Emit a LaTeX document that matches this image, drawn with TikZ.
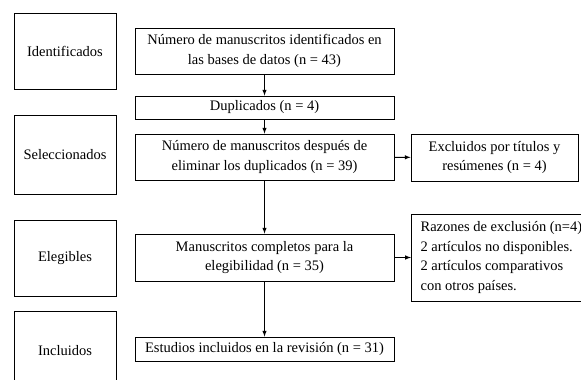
\documentclass[tikz,border=0pt]{standalone}
\usepackage{fontspec}
\setmainfont{Liberation Serif}
\usepackage{tikz}
\usetikzlibrary{shapes, arrows, positioning}

\begin{document}
\begin{tikzpicture}[x=1pt, y=-1pt, font=\fontsize{14.5}{19.5}\selectfont]
    \tikzstyle{stage} = [rectangle, draw, line width=0.8pt, minimum width=102pt, inner sep=0pt, align=center]
    \tikzstyle{block} = [rectangle, draw, line width=0.8pt, minimum width=259pt, inner sep=0pt, align=center]
    \tikzstyle{side} = [rectangle, draw, line width=0.8pt, inner sep=0pt]
    \tikzstyle{arrow} = [line width=1pt,->,>=latex]

    \useasboundingbox (0,0) rectangle (581,380);

    % fases
    \node [stage, minimum height=76pt] (ident) at (65,51) {Identificados};
    \node [stage, minimum height=79pt] (selec) at (65,154.5) {Seleccionados};
    \node [stage, minimum height=76pt] (elegi) at (65,258) {Elegibles};
    \node [stage, minimum height=79pt] (inclu) at (65,350.5) {Incluidos};

    % flujo principal
    \node [block, minimum height=46pt] (found) at (264.5,51) {Número de manuscritos identificados en\\las bases de datos (n = 43)};
    \node [block, minimum height=23pt] (dup) at (264.5,107.5) {Duplicados (n = 4)};
    \node [block, minimum height=46pt] (nodup) at (264.5,157) {Número de manuscritos después de\\eliminar los duplicados (n = 39)};
    \node [block, minimum height=47pt] (full) at (264.5,257.5) {Manuscritos completos para la\\elegibilidad (n = 35)};
    \node [block, minimum height=24pt] (incl) at (264.5,349) {Estudios incluidos en la revisión (n = 31)};

    % exclusiones
    \node [side, minimum width=167pt, minimum height=47pt, align=center] (excl) at (494.5,157.5) {Excluidos por títulos y\\resúmenes (n = 4)};
    \node [side, minimum width=180pt, minimum height=87pt, align=left, anchor=west, inner xsep=5pt] (reasons) at (411,257.5) {Razones de exclusión (n=4)\\2 artículos no disponibles.\\2 artículos comparativos\\con otros países.};

    \draw [arrow] (found) -- (dup);
    \draw [arrow] (dup) -- (nodup);
    \draw [arrow] (nodup) -- (full);
    \draw [arrow] (full) -- (incl);
    \draw [arrow] (nodup) -- (excl);
    \draw [arrow] (full) -- (reasons);
\end{tikzpicture}
\end{document}
